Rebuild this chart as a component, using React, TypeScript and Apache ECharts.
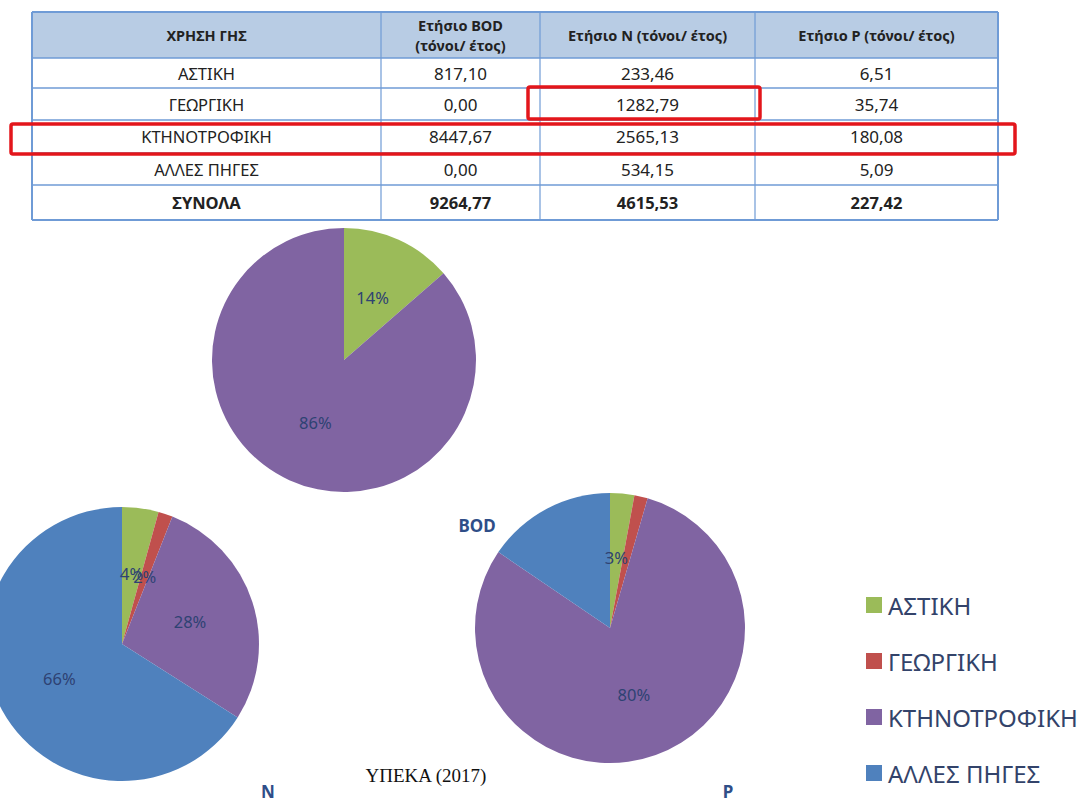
import React, { useEffect, useRef } from "react";
import * as echarts from "echarts";

const categories = ["ΑΣΤΙΚΗ", "ΓΕΩΡΓΙΚΗ", "ΚΤΗΝΟΤΡΟΦΙΚΗ", "ΑΛΛΕΣ ΠΗΓΕΣ"];
const colors = ["#9BBB59", "#C0504D", "#8064A2", "#4F81BD"];

const tableHeader = ["ΧΡΗΣΗ ΓΗΣ", "Ετήσιο BOD\n(τόνοι/ έτος)", "Ετήσιο N (τόνοι/ έτος)", "Ετήσιο P (τόνοι/ έτος)"];
const tableBOD = ["817,10", "0,00", "8447,67", "0,00"];
const tableN = ["233,46", "1282,79", "2565,13", "534,15"];
const tableP = ["6,51", "35,74", "180,08", "5,09"];
const tableTotals = ["ΣΥΝΟΛΑ", "9264,77", "4615,53", "227,42"];

// pie shares as drawn in the picture (percent)
const pieBOD = [13.6, 0, 86.4, 0];
const pieN = [4.3, 1.7, 28.0, 66.0];
const pieP = [2.9, 1.6, 80.0, 15.5];
const labelsBOD = [true, false, true, false];
const labelsN = [true, true, true, true];
const labelsP = [true, false, true, false];

const pieTitles = ["BOD", "N", "P"];
const sourceText = "ΥΠΕΚΑ (2017)";

export default function App() {
  const ref = useRef<HTMLDivElement>(null);

  useEffect(() => {
    if (!ref.current) return;
    const chart = echarts.init(ref.current, null, { renderer: "svg" });

    const colX = [32, 381, 540, 755, 998];
    const rowY = [12, 58, 88, 120, 153, 185, 220];
    const lineColor = "#6f9bd6";
    const gfx: any[] = [];

    gfx.push({
      type: "rect",
      shape: { x: colX[0], y: rowY[0], width: colX[4] - colX[0], height: rowY[1] - rowY[0] },
      style: { fill: "#B8CCE4" },
      z: 1,
    });
    rowY.forEach((y, i) => {
      gfx.push({
        type: "line",
        shape: { x1: colX[0], y1: y, x2: colX[4], y2: y },
        style: { stroke: lineColor, lineWidth: i === 0 || i === rowY.length - 1 ? 2 : 1.5 },
        z: 2,
      });
    });
    colX.forEach((x, i) => {
      gfx.push({
        type: "line",
        shape: { x1: x, y1: rowY[0], x2: x, y2: rowY[rowY.length - 1] },
        style: { stroke: lineColor, lineWidth: i === 0 || i === colX.length - 1 ? 2 : 1.2 },
        z: 2,
      });
    });

    const cellText = (txt: string, col: number, row: number, bold: boolean, size: number) => {
      gfx.push({
        type: "text",
        style: {
          text: txt,
          x: (colX[col] + colX[col + 1]) / 2,
          y: (rowY[row] + rowY[row + 1]) / 2,
          align: "center",
          verticalAlign: "middle",
          fontFamily: "Noto Sans",
          fontSize: size,
          fontWeight: bold ? "bold" : "normal",
          fill: "#222222",
          lineHeight: size + 5,
        },
        z: 3,
      });
    };
    tableHeader.forEach((h, c) => cellText(h, c, 0, true, 14.5));
    categories.forEach((cat, r) => {
      cellText(cat, 0, r + 1, false, 16.5);
      cellText(tableBOD[r], 1, r + 1, false, 17);
      cellText(tableN[r], 2, r + 1, false, 17);
      cellText(tableP[r], 3, r + 1, false, 17);
    });
    tableTotals.forEach((t, c) => cellText(t, c, 5, true, 16.5));

    // red highlight boxes
    gfx.push({
      type: "rect",
      shape: { x: 528, y: 87, width: 232, height: 32, r: 2 },
      style: { fill: "transparent", stroke: "#E3161B", lineWidth: 3.5 },
      z: 5,
    });
    gfx.push({
      type: "rect",
      shape: { x: 11, y: 124, width: 1004, height: 30, r: 2 },
      style: { fill: "transparent", stroke: "#E3161B", lineWidth: 3.5 },
      z: 5,
    });

    const titlePos = [
      [477, 525],
      [268, 791],
      [728, 791],
    ];
    pieTitles.forEach((t, i) => {
      gfx.push({
        type: "text",
        style: {
          text: t,
          x: titlePos[i][0],
          y: titlePos[i][1],
          align: "center",
          verticalAlign: "middle",
          fontFamily: "Noto Sans",
          fontSize: 17,
          fontWeight: "bold",
          fill: "#2F4E88",
        },
        z: 10,
      });
    });
    gfx.push({
      type: "text",
      style: {
        text: sourceText,
        x: 426,
        y: 775,
        align: "center",
        verticalAlign: "middle",
        fontFamily: "Liberation Serif",
        fontSize: 19,
        fill: "#111111",
      },
      z: 10,
    });

    const makeData = (vals: number[], show: boolean[]) =>
      vals.map((v, i) => ({
        name: categories[i],
        value: v,
        itemStyle: { color: colors[i] },
        label: { show: show[i] && v > 0 },
      }));

    const pieBase = {
      type: "pie",
      startAngle: 90,
      clockwise: true,
      percentPrecision: 0,
      avoidLabelOverlap: false,
      minShowLabelAngle: 0,
      labelLayout: { hideOverlap: false },
      label: {
        position: "inside",
        formatter: "{d}%",
        color: "#2E4273",
        fontFamily: "Noto Sans",
        fontSize: 16.5,
      },
      labelLine: { show: false },
      emphasis: { disabled: true },
      itemStyle: { borderWidth: 0 },
    };

    chart.setOption({
      animation: false,
      color: colors,
      legend: {
        orient: "vertical",
        left: 861,
        top: 588,
        itemWidth: 16,
        itemHeight: 16,
        itemGap: 32,
        icon: "rect",
        data: categories,
        textStyle: {
          fontSize: 24,
          color: "#33436A",
          fontFamily: "Noto Sans",
          padding: [0, 0, 0, 1],
        },
      },
      graphic: gfx,
      series: [
        { ...pieBase, name: "BOD", center: [344, 360], radius: 132, data: makeData(pieBOD, labelsBOD) },
        { ...pieBase, name: "N", center: [122, 644], radius: 137, data: makeData(pieN, labelsN) },
        { ...pieBase, name: "P", center: [610, 628], radius: 135, data: makeData(pieP, labelsP) },
      ],
    });

    return () => chart.dispose();
  }, []);

  return (
    <div
      ref={ref}
      style={{ position: "absolute", left: 0, top: 0, width: 1092, height: 802, background: "#ffffff" }}
    />
  );
}
